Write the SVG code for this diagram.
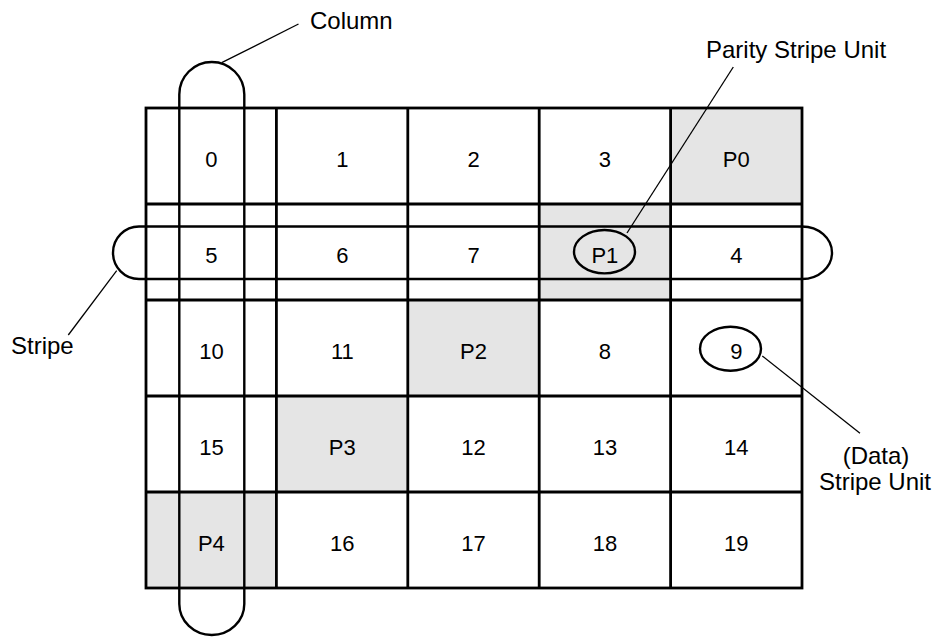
<svg xmlns="http://www.w3.org/2000/svg" width="940" height="637" viewBox="0 0 940 637">
  <style>
    .bg { fill: #ffffff; }
    .par { fill: #e5e5e5; stroke: none; }
    .grid { fill: none; stroke: #000; stroke-width: 2.8; }
    .cap { fill: none; stroke: #000; stroke-width: 2.4; }
    .ell { fill: none; stroke: #000; stroke-width: 2.4; }
    .lead { fill: none; stroke: #000; stroke-width: 1.3; }
    .num { font-family: "Liberation Sans", Arial, sans-serif; font-size: 22px; fill: #000; text-anchor: middle; }
    .lbl { font-family: "Liberation Sans", Arial, sans-serif; font-size: 24px; fill: #000; }
  </style>
  <rect class="bg" x="0" y="0" width="940" height="637"/>

  <!-- parity cell shading -->
  <g id="shading">
    <rect class="par" x="670.6" y="108" width="131.4" height="96"/>
    <rect class="par" x="539.2" y="204" width="131.4" height="96"/>
    <rect class="par" x="407.8" y="300" width="131.4" height="96"/>
    <rect class="par" x="276.4" y="396" width="131.4" height="96"/>
    <rect class="par" x="146" y="492" width="130.4" height="96"/>
  </g>

  <!-- grid -->
  <g id="grid">
    <rect class="grid" x="146" y="108" width="656" height="480"/>
    <line class="grid" x1="276.4" y1="108" x2="276.4" y2="588"/>
    <line class="grid" x1="407.8" y1="108" x2="407.8" y2="588"/>
    <line class="grid" x1="539.2" y1="108" x2="539.2" y2="588"/>
    <line class="grid" x1="670.6" y1="108" x2="670.6" y2="588"/>
    <line class="grid" x1="146" y1="204" x2="802" y2="204"/>
    <line class="grid" x1="146" y1="300" x2="802" y2="300"/>
    <line class="grid" x1="146" y1="396" x2="802" y2="396"/>
    <line class="grid" x1="146" y1="492" x2="802" y2="492"/>
  </g>

  <!-- cells -->
  <g id="cell-0"><text class="num" x="211.4" y="166.5">0</text></g>
  <g id="cell-1"><text class="num" x="342.3" y="166.5">1</text></g>
  <g id="cell-2"><text class="num" x="473.5" y="166.5">2</text></g>
  <g id="cell-3"><text class="num" x="604.9" y="166.5">3</text></g>
  <g id="cell-P0"><text class="num" x="736.3" y="166.5">P0</text></g>

  <g id="cell-5"><text class="num" x="211.4" y="262.5">5</text></g>
  <g id="cell-6"><text class="num" x="342.3" y="262.5">6</text></g>
  <g id="cell-7"><text class="num" x="473.5" y="262.5">7</text></g>
  <g id="cell-P1"><text class="num" x="604.9" y="262.5">P1</text></g>
  <g id="cell-4"><text class="num" x="736.3" y="262.5">4</text></g>

  <g id="cell-10"><text class="num" x="211.4" y="358.5">10</text></g>
  <g id="cell-11"><text class="num" x="342.3" y="358.5">11</text></g>
  <g id="cell-P2"><text class="num" x="473.5" y="358.5">P2</text></g>
  <g id="cell-8"><text class="num" x="604.9" y="358.5">8</text></g>
  <g id="cell-9"><text class="num" x="736.3" y="358.5">9</text></g>

  <g id="cell-15"><text class="num" x="211.4" y="454.5">15</text></g>
  <g id="cell-P3"><text class="num" x="342.3" y="454.5">P3</text></g>
  <g id="cell-12"><text class="num" x="473.5" y="454.5">12</text></g>
  <g id="cell-13"><text class="num" x="604.9" y="454.5">13</text></g>
  <g id="cell-14"><text class="num" x="736.3" y="454.5">14</text></g>

  <g id="cell-P4"><text class="num" x="211.4" y="550.5">P4</text></g>
  <g id="cell-16"><text class="num" x="342.3" y="550.5">16</text></g>
  <g id="cell-17"><text class="num" x="473.5" y="550.5">17</text></g>
  <g id="cell-18"><text class="num" x="604.9" y="550.5">18</text></g>
  <g id="cell-19"><text class="num" x="736.3" y="550.5">19</text></g>

  <!-- column capsule -->
  <g id="column-outline">
    <path class="cap" d="M179.3,94.5 A32.5,32.5 0 0 1 244.3,94.5 L244.3,604 A32.5,31 0 0 1 179.3,604 Z"/>
  </g>

  <!-- stripe capsule -->
  <g id="stripe-outline">
    <path class="cap" d="M139,226.5 L802,226.5 A30,26.25 0 0 1 802,279 L139,279 A26,26.25 0 0 1 139,226.5 Z"/>
  </g>

  <!-- highlighted units -->
  <g id="parity-unit-mark">
    <ellipse class="ell" cx="604.5" cy="251.7" rx="30.5" ry="21.7"/>
  </g>
  <g id="data-unit-mark">
    <ellipse class="ell" cx="730.5" cy="348.7" rx="30.5" ry="22"/>
  </g>

  <!-- labels -->
  <g id="label-column"><text class="lbl" x="310" y="29">Column</text></g>
  <g id="label-parity"><text class="lbl" x="706" y="58">Parity Stripe Unit</text></g>
  <g id="label-stripe"><text class="lbl" x="11" y="354">Stripe</text></g>
  <g id="label-data">
    <text class="lbl" x="876" y="464" text-anchor="middle">(Data)</text>
    <text class="lbl" x="875" y="490" text-anchor="middle">Stripe Unit</text>
  </g>

  <!-- connectors -->
  <g id="connectors">
    <line class="lead" x1="221.7" y1="62.7" x2="298.5" y2="24"/>
    <line class="lead" x1="627" y1="233" x2="733.3" y2="67"/>
    <line class="lead" x1="116.7" y1="270.7" x2="68.3" y2="335"/>
    <line class="lead" x1="762.3" y1="356" x2="860" y2="433.3"/>
  </g>
</svg>
